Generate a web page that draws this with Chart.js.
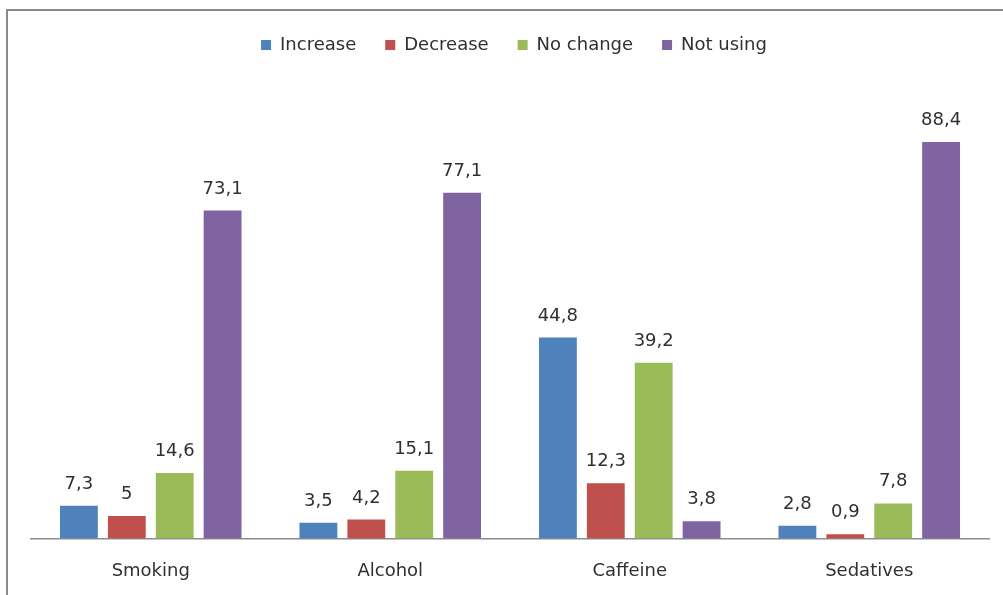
<!DOCTYPE html>
<html>
<head>
<meta charset="utf-8">
<script src="https://cdn.jsdelivr.net/npm/chart.js@4/dist/chart.umd.min.js"></script>
<style>
  html, body { margin: 0; padding: 0; background: #fff; overflow: hidden; }
  #frame { position: absolute; left: 6px; top: 9px; width: 1100px; height: 700px;
           border: 2px solid #8a8a8a; box-sizing: border-box; }
  #wrap { position: absolute; left: 0; top: 0; width: 1003px; height: 595px; }
</style>
</head>
<body>
<div id="frame"></div>
<div id="wrap"><canvas id="c" width="1003" height="595"></canvas></div>
<script>
const categories = ['Smoking', 'Alcohol', 'Caffeine', 'Sedatives'];
const increase  = [7.3, 3.5, 44.8, 2.8];
const decrease  = [5, 4.2, 12.3, 0.9];
const noChange  = [14.6, 15.1, 39.2, 7.8];
const notUsing  = [73.1, 77.1, 3.8, 88.4];

const FONT = "'DejaVu Sans', sans-serif";

// Value labels above each bar, written with a decimal comma
const barValues = {
  id: 'barValues',
  afterDatasetsDraw(chart) {
    const ctx = chart.ctx;
    ctx.save();
    ctx.font = '18px ' + FONT;
    ctx.fillStyle = '#303030';
    ctx.textAlign = 'center';
    ctx.textBaseline = 'alphabetic';
    chart.data.datasets.forEach((ds, i) => {
      chart.getDatasetMeta(i).data.forEach((bar, j) => {
        const txt = String(ds.data[j]).replace('.', ',');
        ctx.fillText(txt, bar.x, bar.y - 17);
      });
    });
    ctx.restore();
  }
};

// Extra room between the legend row and the plot, and a slight nudge right
const legendGap = {
  id: 'legendGap',
  beforeInit(chart) {
    const legend = chart.legend;
    if (!legend) return;
    const fit = legend.fit;
    legend.fit = function () {
      fit.call(this);
      this.height += 26;
    };
  },
  afterLayout(chart) {
    const legend = chart.legend;
    if (!legend) return;
    legend.left += 4;
    legend.right += 4;
  }
};

new Chart(document.getElementById('c'), {
  type: 'bar',
  data: {
    labels: categories,
    datasets: [
      { label: 'Increase',  data: increase, backgroundColor: '#4F81BD' },
      { label: 'Decrease',  data: decrease, backgroundColor: '#C0504D' },
      { label: 'No change', data: noChange, backgroundColor: '#9BBB59' },
      { label: 'Not using', data: notUsing, backgroundColor: '#8064A2' }
    ]
  },
  options: {
    responsive: false,
    animation: false,
    devicePixelRatio: 1,
    categoryPercentage: 0.8,
    barPercentage: 0.79,
    layout: { padding: { left: 31, right: 14, top: 7, bottom: -1 } },
    plugins: {
      legend: {
        position: 'top',
        labels: {
          boxWidth: 10, boxHeight: 10, padding: 29,
          color: '#303030',
          font: { family: FONT, size: 18 }
        }
      },
      tooltip: { enabled: false }
    },
    scales: {
      x: {
        grid: { display: false },
        border: { display: true, color: '#8c8c8c', width: 1.5 },
        ticks: { color: '#303030', padding: 14, font: { family: FONT, size: 18 } }
      },
      y: {
        display: false,
        min: 0, max: 100
      }
    }
  },
  plugins: [legendGap, barValues]
});
</script>
</body>
</html>
